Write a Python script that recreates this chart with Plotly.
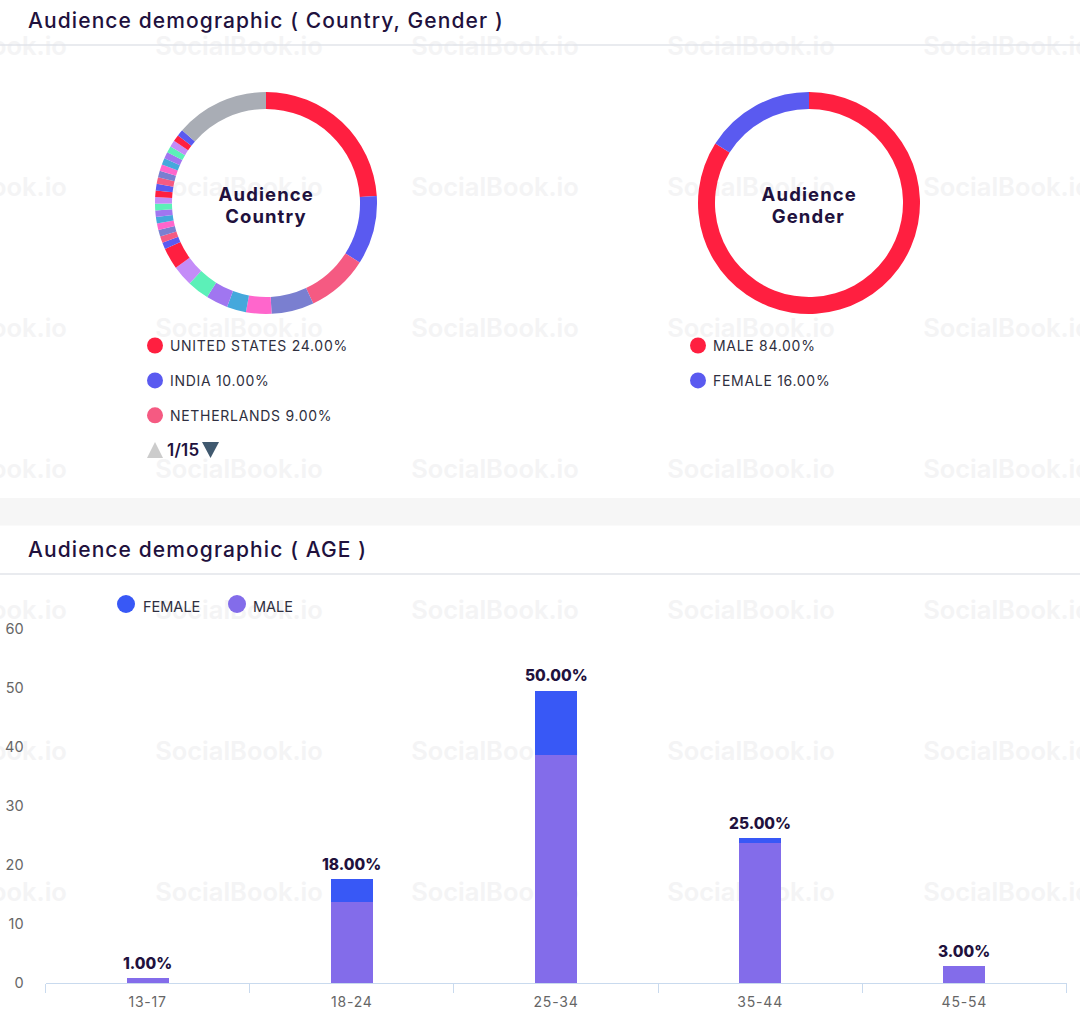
import plotly.graph_objects as go

W, H = 1080, 1012

# ---- data ----
country_labels = ["United States", "India", "Netherlands", "Country 4", "Country 5", "Country 6",
                  "Country 7", "Country 8", "Country 9", "Country 10"] + \
                 [f"Country {i}" for i in range(11, 30)] + ["Other"]
country_values = [24, 10, 9, 6.2, 3.7, 2.8, 3.2, 3.2, 3.0, 3.1] + [0.956] * 19 + [13.63]
palette = ["#ff1f40", "#5a5af0", "#f55a82", "#7a7fd0", "#ff66cc", "#45a8dc", "#a076f0", "#5cf0b8", "#c48cf8"]
grey_slice = "#a9adb5"

gender_labels = ["Male", "Female"]
gender_values = [84, 16]
gender_colors = ["#ff1f40", "#5a5af0"]

age_groups = ["13-17", "18-24", "25-34", "35-44", "45-54"]
male_values = [0.8, 13.8, 38.7, 23.7, 2.8]
female_values = [0, 3.8, 10.8, 0.8, 0]
age_labels = ["1.00%", "18.00%", "50.00%", "25.00%", "3.00%"]
age_ticks = [0, 10, 20, 30, 40, 50, 60]

country_legend = ["UNITED STATES 24.00%", "INDIA 10.00%", "NETHERLANDS 9.00%"]
gender_legend = ["MALE 84.00%", "FEMALE 16.00%"]
age_legend = ["FEMALE", "MALE"]

FONT = "Inter, Lato, sans-serif"
DARK = "#21113d"
TEXT = "#2f2f40"
FEMALE = "#3858f6"
MALE = "#836cea"


def px(x):
    return x / W


def py(y):
    return 1 - y / H


def note(x, y, text, size, color=TEXT, anchor="left", weight=400):
    return dict(xref="paper", yref="paper", x=px(x), y=py(y), text=text, showarrow=False,
                xanchor=anchor, yanchor="middle", align=anchor, borderpad=0, borderwidth=0,
                font=dict(family=FONT, size=size, color=color, weight=weight))


def dot(cx, cy, r, color):
    return dict(type="circle", xref="paper", yref="paper", x0=px(cx - r), x1=px(cx + r),
                y0=py(cy - r), y1=py(cy + r), fillcolor=color, line_width=0)


slice_colors = [palette[i % 9] for i in range(len(country_values) - 1)] + [grey_slice]

fig = go.Figure()
for labels, values, colors, x0, x1 in [
    (country_labels, country_values, slice_colors, 155, 377),
    (gender_labels, gender_values, gender_colors, 698, 920),
]:
    fig.add_trace(go.Pie(labels=labels, values=values, hole=0.847, sort=False, direction="clockwise",
                         rotation=0, textinfo="none", showlegend=False, hoverinfo="label+percent",
                         marker=dict(colors=colors, line=dict(width=0)),
                         domain=dict(x=[px(x0), px(x1)], y=[py(314), py(92)])))

fig.add_trace(go.Bar(x=age_groups, y=male_values, name="MALE", marker=dict(color=MALE, line_width=0),
                     width=0.205, showlegend=False))
fig.add_trace(go.Bar(x=age_groups, y=female_values, name="FEMALE", marker=dict(color=FEMALE, line_width=0),
                     width=0.205, showlegend=False))

shapes = []
# watermark (underneath all marks)
for wy in [45, 186, 327, 468, 609, 750, 891]:
    for wx in [-100, 156, 412, 668, 924]:
        shapes.append(dict(type="rect", xref="paper", yref="paper", layer="below",
                           x0=px(wx), x1=px(wx + 166), y0=py(wy + 12), y1=py(wy - 12),
                           line_width=0, fillcolor="rgba(0,0,0,0)",
                           label=dict(text="SocialBook.io", textposition="middle center",
                                      font=dict(family=FONT, size=25.5, color="#f4f4f5", weight=600))))
# page band and header rules
shapes.append(dict(type="rect", xref="paper", yref="paper", layer="below", x0=0, x1=1,
                   y0=py(525.5), y1=py(498), fillcolor="#f6f6f6", line_width=0))
for ry in [45, 574]:
    shapes.append(dict(type="line", xref="paper", yref="paper", layer="below", x0=0, x1=1,
                       y0=py(ry), y1=py(ry), line=dict(color="#e2e5ea", width=1.3)))

annotations = [
    note(28, 21, "Audience demographic ( Country, Gender )", 21, DARK, weight=500),
    note(28, 549, "Audience demographic ( AGE )", 21, DARK, weight=500),
    note(266, 194, "Audience", 18.5, DARK, "center", 700),
    note(266, 216, "Country", 18.5, DARK, "center", 700),
    note(808.5, 194, "Audience", 18.5, DARK, "center", 700),
    note(808.5, 216, "Gender", 18.5, DARK, "center", 700),
]
for i, t in enumerate(country_legend):
    y = 345.5 + i * 34.9
    shapes.append(dot(155, y, 8, palette[i]))
    annotations.append(note(170, y, t, 14, TEXT))
for i, t in enumerate(gender_legend):
    y = 345.5 + i * 34.9
    shapes.append(dot(698, y, 8, gender_colors[i]))
    annotations.append(note(713, y, t, 14, TEXT))

# pager
shapes.append(dict(type="path", xref="paper", yref="paper", fillcolor="#cccccc", line_width=0,
                   path=f"M {px(147)} {py(458)} L {px(155)} {py(442)} L {px(163)} {py(458)} Z"))
shapes.append(dict(type="path", xref="paper", yref="paper", fillcolor="#40596f", line_width=0,
                   path=f"M {px(202)} {py(442)} L {px(219)} {py(442)} L {px(210.5)} {py(458)} Z"))
annotations.append(note(167, 449.5, "1/15", 17, DARK, weight=600))

# age legend
for cx, tx, t, c in [(126, 143, age_legend[0], FEMALE), (237, 253, age_legend[1], MALE)]:
    shapes.append(dot(cx, 604, 9, c))
    annotations.append(note(tx, 606, t, 14.5, TEXT))

# value labels above the bars
for g, m, f, t in zip(age_groups, male_values, female_values, age_labels):
    annotations.append(dict(xref="x", yref="y", x=g, y=m + f, text=t, showarrow=False, yanchor="bottom",
                            yshift=3.5, font=dict(family=FONT, size=15.5, color=DARK, weight=800)))

fig.update_layout(
    width=W, height=H, autosize=False, margin=dict(l=0, r=0, t=0, b=0, pad=0, autoexpand=False),
    paper_bgcolor="white", plot_bgcolor="rgba(0,0,0,0)", barmode="stack",
    shapes=shapes, annotations=annotations,
    xaxis=dict(domain=[px(45.5), px(1066.5)], range=[-0.5, 4.5], type="category", tickson="boundaries",
               ticks="outside", ticklen=9, tickcolor="#c9daee", linecolor="#c9daee", linewidth=1.3,
               showline=True, showgrid=False, zeroline=False, ticklabelstandoff=6,
               tickfont=dict(family=FONT, size=14, color="#666666"), anchor="y", automargin=False),
    yaxis=dict(domain=[py(983), py(627)], range=[0, 60.3], tickvals=age_ticks, showgrid=False, zeroline=False,
               showline=False, ticks="outside", ticklen=18, tickcolor="rgba(0,0,0,0)",
               tickfont=dict(family=FONT, size=14.5, color="#666666"), anchor="x", automargin=False),
)

post = """
document.body.style.margin='0';
document.documentElement.style.overflow='hidden';
var spacing={'21px':'1.1px','18.5px':'1.1px','14px':'0.7px','17px':'0.2px'};
document.querySelectorAll('.annotation-text').forEach(function(e){
  var s=spacing[e.style.fontSize]; if(s){e.style.letterSpacing=s;}
});
document.querySelectorAll('.xtick text').forEach(function(e){e.style.letterSpacing='0.8px';});
"""
fig.write_html("out.html", post_script=post, config=dict(displayModeBar=False))
